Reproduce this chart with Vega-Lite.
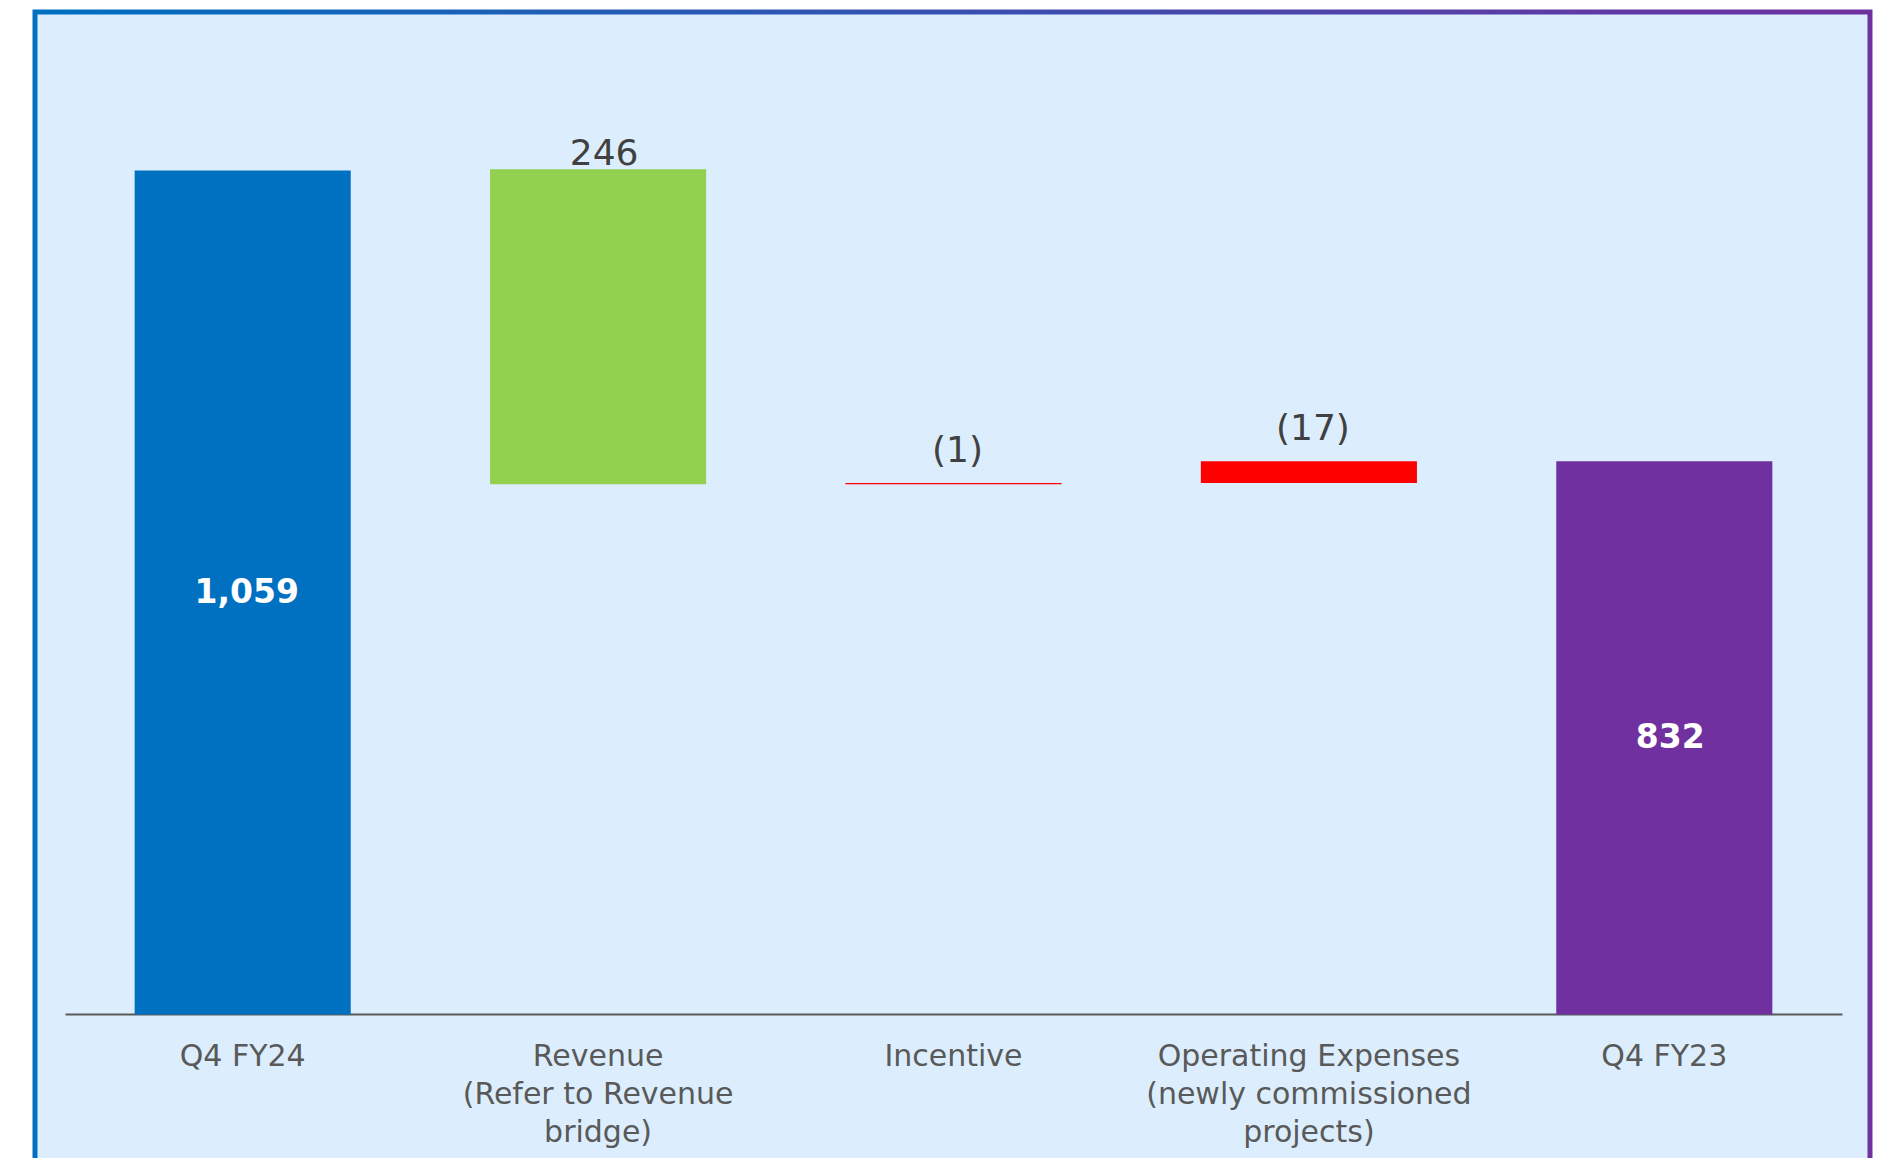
{
  "$schema": "https://vega.github.io/schema/vega-lite/v6.json",
  "width": 1835,
  "height": 1150,
  "autosize": {"type": "none"},
  "padding": {"left": 35, "top": 12, "right": 19, "bottom": -4},
  "background": "#ffffff",
  "config": {
    "view": {
      "fill": "#DCEEFD",
      "stroke": {"gradient": "linear", "x1": 0, "y1": 0, "x2": 1, "y2": 0, "stops": [{"offset": 0, "color": "#0070C0"}, {"offset": 1, "color": "#7030A0"}]},
      "strokeWidth": 5
    },
    "font": "DejaVu Sans"
  },
  "data": {
    "values": [
      {"cat": "Q4 FY24", "kind": "start", "value": 1059},
      {"cat": "Revenue\n(Refer to Revenue\nbridge)", "kind": "increase", "start": 814, "end": 1060, "label": "246"},
      {"cat": "Incentive", "kind": "decrease", "start": 815, "end": 814, "label": "(1)"},
      {"cat": "Operating Expenses\n(newly commissioned\nprojects)", "kind": "decrease", "start": 832, "end": 815, "label": "(17)"},
      {"cat": "Q4 FY23", "kind": "end", "value": 832}
    ]
  },
  "encoding": {
    "x": {
      "field": "cat",
      "type": "nominal",
      "sort": null,
      "scale": {
        "domain": ["Q4 FY24", "Revenue\n(Refer to Revenue\nbridge)", "Incentive", "Operating Expenses\n(newly commissioned\nprojects)", "Q4 FY23"],
        "range": [30, 1807],
        "paddingInner": 0.392,
        "paddingOuter": 0.196
      },
      "axis": {
        "title": null,
        "offset": -148,
        "domain": true,
        "domainColor": "#595959",
        "domainWidth": 2,
        "ticks": false,
        "grid": false,
        "labelAngle": 0,
        "labelFont": "DejaVu Sans",
        "labelFontSize": 30,
        "labelColor": "#595959",
        "labelPadding": 27,
        "labelLimit": 0,
        "labelLineHeight": 38,
        "labelExpr": "split(datum.label, '\\n')"
      }
    }
  },
  "layer": [
    {
      "transform": [{"filter": "isValid(datum.value)"}],
      "mark": {"type": "bar"},
      "encoding": {
        "y": {"field": "value", "type": "quantitative", "scale": {"domain": [284.8, 1182.8], "nice": false, "zero": false}, "axis": null},
        "y2": {"datum": 400},
        "color": {"field": "kind", "type": "nominal", "scale": {"domain": ["start", "increase", "decrease", "end"], "range": ["#0070C0", "#92D050", "#FF0000", "#7030A0"]}, "legend": null}
      }
    },
    {
      "transform": [{"filter": "isValid(datum.start)"}],
      "mark": {"type": "bar"},
      "encoding": {
        "y": {"field": "start", "type": "quantitative", "scale": {"domain": [284.8, 1182.8], "nice": false, "zero": false}, "axis": null},
        "y2": {"field": "end"},
        "color": {"field": "kind", "type": "nominal", "legend": null}
      }
    },
    {
      "transform": [{"filter": "datum.kind == 'increase'"}],
      "mark": {"type": "text", "baseline": "alphabetic", "dy": -4, "dx": 6, "fontSize": 36, "color": "#404040", "font": "DejaVu Sans"},
      "encoding": {
        "y": {"field": "end", "type": "quantitative"},
        "text": {"field": "label"}
      }
    },
    {
      "transform": [{"filter": "datum.kind == 'decrease'"}],
      "mark": {"type": "text", "baseline": "alphabetic", "dy": -21, "dx": 4, "fontSize": 36, "color": "#404040", "font": "DejaVu Sans"},
      "encoding": {
        "y": {"field": "start", "type": "quantitative"},
        "text": {"field": "label"}
      }
    },
    {
      "transform": [{"filter": "datum.kind == 'start'"}],
      "mark": {"type": "text", "baseline": "middle", "dx": 4, "fontSize": 33, "fontWeight": "bold", "color": "#ffffff", "font": "DejaVu Sans"},
      "encoding": {
        "y": {"datum": 729.5, "type": "quantitative"},
        "text": {"field": "value", "type": "quantitative", "format": ","}
      }
    },
    {
      "transform": [{"filter": "datum.kind == 'end'"}],
      "mark": {"type": "text", "baseline": "middle", "dx": 6, "fontSize": 33, "fontWeight": "bold", "color": "#ffffff", "font": "DejaVu Sans"},
      "encoding": {
        "y": {"datum": 616, "type": "quantitative"},
        "text": {"field": "value", "type": "quantitative", "format": ","}
      }
    }
  ]
}
